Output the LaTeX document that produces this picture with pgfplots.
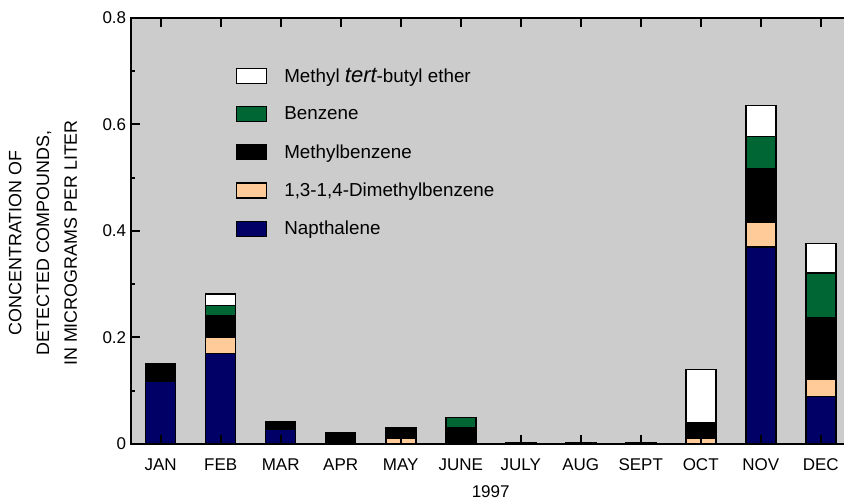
\documentclass[border=0pt]{standalone}
\usepackage{pgfplots}
\pgfplotsset{compat=1.18}
\usepackage{fontspec}
\setmainfont{Liberation Sans}
\definecolor{navyb}{RGB}{0,0,102}
\definecolor{greenb}{RGB}{0,102,51}
\definecolor{peachb}{RGB}{255,204,153}
\pgfplotsset{
  commonframe/.style={
    at={(0pt,0pt)}, anchor=south west,
    scale only axis, width=720pt, height=426.3pt,
    xmin=-0.5, xmax=11.5, ymin=0, ymax=0.8,
    axis line style={line width=2pt},
  }
}
\begin{document}
\begin{tikzpicture}
\begin{axis}[
  commonframe,
  ybar stacked, bar width=30pt,
  axis background/.style={fill=black!20},
  axis on top,
  tick align=inside,
  xtick={0,...,11},
  xticklabels={JAN,FEB,MAR,APR,MAY,JUNE,JULY,AUG,SEPT,OCT,NOV,DEC},
  ytick={0,0.2,0.4,0.6,0.8},
  yticklabels={0,0.2,0.4,0.6,0.8},
  ytick pos=left,
  tick label style={font=\fontsize{17}{20}\selectfont},
  xticklabel style={yshift=-11pt},
  yticklabel style={xshift=-1pt},
  xlabel={1997},
  xlabel style={font=\fontsize{17}{20}\selectfont, yshift=-8pt},
  ylabel={CONCENTRATION OF\\DETECTED COMPOUNDS,\\IN MICROGRAMS PER LITER},
  ylabel style={font=\fontsize{17.9}{27.8}\selectfont, align=center,
    at={(axis description cs:-0.1218,0.4715)}, anchor=center},
  reverse legend,
  legend style={at={(axis description cs:0.146,0.8836)}, anchor=north west,
    draw=none, fill=none, inner sep=0pt, row sep=22pt, column sep=17pt,
    font=\fontsize{18.8}{20}\selectfont, nodes={inner sep=0pt}},
  legend cell align=left,
  legend image code/.code={\draw[#1, line width=1.3pt] (0pt,-7.5pt) rectangle (30pt,7.5pt);},
]
\addplot[fill=navyb, draw=black, line width=1.6pt] coordinates {
 (0,0.118) (1,0.17) (2,0.028) (3,0) (4,0) (5,0) (6,0) (7,0) (8,0) (9,0) (10,0.37) (11,0.089)};
\addplot[fill=peachb, draw=black, line width=1.6pt] coordinates {
 (0,0) (1,0.03) (2,0) (3,0) (4,0.01) (5,0) (6,0) (7,0) (8,0) (9,0.01) (10,0.047) (11,0.032)};
\addplot[fill=black, draw=black, line width=1.6pt] coordinates {
 (0,0.032) (1,0.04) (2,0.013) (3,0.021) (4,0.02) (5,0.03) (6,0.002) (7,0.002) (8,0.002) (9,0.03) (10,0.10) (11,0.116)};
\addplot[fill=greenb, draw=black, line width=1.6pt] coordinates {
 (0,0) (1,0.02) (2,0) (3,0) (4,0) (5,0.02) (6,0) (7,0) (8,0) (9,0) (10,0.06) (11,0.084)};
\addplot[fill=white, draw=black, line width=1.6pt] coordinates {
 (0,0) (1,0.021) (2,0) (3,0) (4,0) (5,0) (6,0) (7,0) (8,0) (9,0.10) (10,0.058) (11,0.055)};
\legend{Napthalene, {1,3-1,4-Dimethylbenzene}, Methylbenzene, Benzene, {Methyl {\fontsize{22}{20}\selectfont\itshape tert}-butyl ether}}
\end{axis}
\begin{axis}[
  commonframe,
  tick align=inside,
  xtick={0,...,11}, xticklabels={},
  ytick={0,0.2,0.4,0.6,0.8}, yticklabels={},
  minor ytick={0.1,0.3,0.5,0.7},
  xtick pos=both, ytick pos=left,
  major tick length=9pt, minor tick length=4.5pt,
  every tick/.style={draw=black, line width=2pt},
]
\end{axis}
\pgfresetboundingbox
\useasboundingbox (-130.7pt,-58pt) rectangle (713.3pt,444pt);
\end{tikzpicture}
\end{document}
